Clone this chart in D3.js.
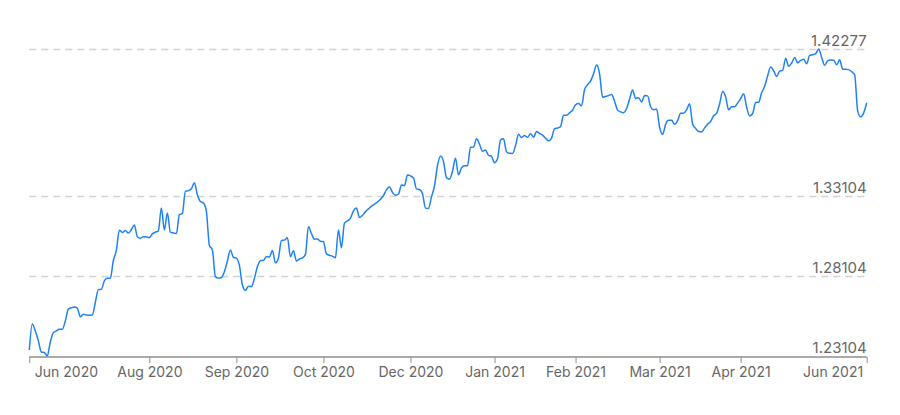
<!DOCTYPE html>
<html>
<head>
<meta charset="utf-8">
<script src="https://cdn.jsdelivr.net/npm/d3@7"></script>
<style>
  html, body { margin: 0; padding: 0; background: #fff; }
  svg { display: block; font-family: Inter, "Noto Sans", sans-serif; }
</style>
</head>
<body>
<div id="chart"></div>
<script>
// Daily rate values (equally spaced trading days)
const values = [
1.2348,1.2510,1.2467,1.2407,1.2335,1.2332,1.23104,1.2398,1.2456,1.2467,
1.2477,1.2477,1.2529,1.2603,1.2612,1.2617,1.2610,1.2555,1.2571,1.2567,
1.2565,1.2567,1.2645,1.2725,1.2727,1.2779,1.2796,1.2796,1.2907,1.2970,
1.3096,1.3082,1.3094,1.3078,1.3099,1.3128,1.3055,1.3046,1.3055,1.3054,
1.3050,1.3073,1.3084,1.3092,1.3235,1.3098,1.3204,1.3084,1.3079,1.3075,
1.3192,1.3201,1.3339,1.3343,1.3355,1.3392,1.3317,1.3275,1.3267,1.3214,
1.3001,1.2973,1.2806,1.2797,1.2801,1.2837,1.2904,1.2973,1.2927,1.2922,
1.2876,1.2754,1.2720,1.2746,1.2744,1.2795,1.2869,1.2906,1.2907,1.2930,
1.2929,1.2970,1.2892,1.2923,1.3032,1.3034,1.3049,1.2931,1.2967,1.2904,
1.2916,1.2923,1.2945,1.3117,1.3076,1.3040,1.3041,1.3027,1.3024,1.2948,
1.2940,1.2934,1.2924,1.3098,1.2985,1.3141,1.3154,1.3171,1.3217,1.3234,
1.3176,1.3189,1.3212,1.3229,1.3246,1.3259,1.3272,1.3289,1.3313,1.3348,
1.3367,1.3332,1.3314,1.3322,1.3379,1.3374,1.3441,1.3435,1.3422,1.3354,
1.3350,1.3324,1.3234,1.3232,1.3304,1.3373,1.3499,1.3560,1.3525,1.3423,
1.3415,1.3464,1.3546,1.3442,1.3485,1.3498,1.3498,1.3614,1.3615,1.3667,
1.3633,1.3589,1.3597,1.3564,1.3557,1.3517,1.3542,1.3660,1.3667,1.3586,
1.3576,1.3575,1.3625,1.3695,1.3675,1.3687,1.3676,1.3699,1.3677,1.3712,
1.3700,1.3690,1.3671,1.3654,1.3671,1.3730,1.3734,1.3744,1.3814,1.3814,
1.3829,1.3845,1.3879,1.3887,1.3873,1.3975,1.4005,1.4027,1.4073,1.4127,
1.4073,1.3926,1.3931,1.3937,1.3943,1.3902,1.3846,1.3835,1.3830,1.3856,
1.3915,1.3971,1.3919,1.3924,1.3897,1.3937,1.3935,1.3867,1.3848,1.3853,
1.3739,1.3694,1.3757,1.3782,1.3782,1.3757,1.3780,1.3827,1.3827,1.3848,
1.3885,1.3760,1.3732,1.3712,1.3710,1.3735,1.3758,1.3775,1.3811,1.3827,
1.3885,1.3963,1.3930,1.3848,1.3867,1.3867,1.3890,1.3918,1.3948,1.3864,
1.3810,1.3825,1.3894,1.3895,1.3954,1.3995,1.4060,1.4115,1.4093,1.4056,
1.4089,1.4094,1.4170,1.4120,1.4140,1.4175,1.4141,1.4156,1.4164,1.4135,
1.4188,1.4192,1.4199,1.42277,1.4175,1.4126,1.4154,1.4159,1.4158,1.4129,
1.4160,1.4102,1.4102,1.4099,1.4086,1.4067,1.3840,1.3804,1.3829,1.3892
];

// X-axis ticks: index into the series and label
const xTickIndex = [0, 40, 69, 98, 127, 155, 182, 210, 237, 279];
const xTickLabels = ["Jun 2020","Aug 2020","Sep 2020","Oct 2020","Dec 2020","Jan 2021","Feb 2021","Mar 2021","Apr 2021","Jun 2021"];

// Y-axis reference values
const yTicks = [1.23104, 1.28104, 1.33104, 1.42277];
const yTickLabels = ["1.23104", "1.28104", "1.33104", "1.42277"];

const W = 900, H = 415;
const margin = { left: 29.3, right: 33.3, top: 49, bottom: 59 };

const svg = d3.select("#chart").append("svg")
  .attr("width", W).attr("height", H);

const x = d3.scaleLinear()
  .domain([0, values.length - 1])
  .range([margin.left, W - margin.right]);

const y = d3.scaleLinear()
  .domain([yTicks[0], yTicks[yTicks.length - 1]])
  .range([356, 49]);

// Gridlines (dashed), skipping the bottom one which sits on the axis
const grid = svg.append("g");
yTicks.forEach((t, i) => {
  if (i === 0) return;
  grid.append("line")
    .attr("x1", margin.left).attr("x2", W - margin.right)
    .attr("y1", Math.round(y(t)) + 0.5).attr("y2", Math.round(y(t)) + 0.5)
    .attr("stroke", "#d2d2d2").attr("stroke-width", 1.5)
    .attr("stroke-dasharray", "7,5");
});

// Y labels (right aligned above lines)
yTicks.forEach((t, i) => {
  svg.append("text")
    .attr("x", W - margin.right)
    .attr("y", y(t) - 3)
    .attr("text-anchor", "end")
    .attr("font-size", 15)
    .attr("fill", "#666")
    .text(yTickLabels[i]);
});

// X axis
const axisY = 357;
const xAxis = d3.axisBottom(x)
  .tickValues(xTickIndex)
  .tickSize(6)
  .tickFormat((d, i) => xTickLabels[i]);

const gx = svg.append("g")
  .attr("transform", `translate(0,${axisY})`)
  .call(xAxis);
gx.select(".domain").attr("stroke", "#8e8e8e").attr("stroke-width", 1.5)
  .attr("d", `M${margin.left},0H${W - margin.right}`);
gx.selectAll(".tick line").attr("stroke", "#8e8e8e").attr("stroke-width", 1);
gx.selectAll(".tick text")
  .attr("font-size", 14)
  .attr("font-family", "Inter, 'Noto Sans', sans-serif")
  .attr("fill", "#666")
  .attr("y", 10)
  .attr("dy", "0.71em")
  .each(function(d, i) {
    const t = d3.select(this);
    if (i === 0) t.attr("text-anchor", "start").attr("x", 5);
    else if (i === xTickIndex.length - 1) t.attr("text-anchor", "end").attr("x", -4);
  });

// Line
const line = d3.line()
  .x((d, i) => x(i))
  .y(d => y(d))
  .curve(d3.curveMonotoneX);

svg.append("path")
  .datum(values)
  .attr("fill", "none")
  .attr("stroke", "#1f82f2")
  .attr("stroke-width", 1.5)
  .attr("stroke-linejoin", "round")
  .attr("d", line);
</script>
</body>
</html>
